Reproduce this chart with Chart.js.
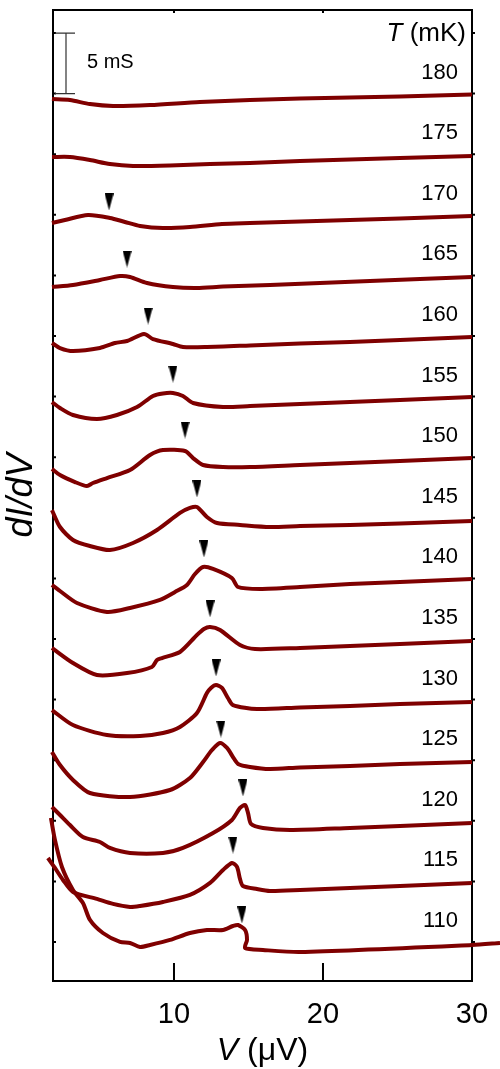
<!DOCTYPE html>
<html>
<head>
<meta charset="utf-8">
<script src="https://cdn.jsdelivr.net/npm/chart.js@4.4.0/dist/chart.umd.min.js"></script>
<style>
  html, body { margin: 0; padding: 0; background: #fff; }
  #wrap { width: 500px; height: 1069px; position: relative; }
</style>
</head>
<body>
<div id="wrap"><canvas id="c" width="500" height="1069"></canvas></div>
<script>
// Temperatures (mK), top trace first
const temperatures = [180, 175, 170, 165, 160, 155, 150, 145, 140, 135, 130, 125, 120, 115, 110];

// dI/dV traces, [V (µV), dI/dV (mS, vertically offset)]
const g180 = [[1.81,69.55],[3.02,69.47],[4.36,69.14],[5.91,68.98],[8.39,69.06],[11.74,69.31],[15.10,69.47],[18.46,69.60],[21.81,69.68],[25.17,69.76],[30.0,69.93]];
const g175 = [[1.81,64.77],[3.02,64.77],[4.36,64.52],[5.70,64.19],[7.25,64.03],[9.73,64.07],[12.42,64.19],[15.10,64.27],[18.46,64.44],[21.81,64.56],[25.17,64.69],[30.0,64.85]];
const g170 = [[1.81,59.32],[2.68,59.57],[4.23,59.98],[5.70,59.74],[6.71,59.41],[7.72,59.08],[9.26,58.91],[11.07,58.99],[13.22,59.24],[15.10,59.32],[18.46,59.45],[21.81,59.57],[25.17,59.69],[30.0,59.90]];
const g165 = [[1.81,54.04],[3.22,54.21],[5.03,54.62],[6.38,54.95],[7.05,54.87],[8.19,54.37],[9.93,54.04],[11.54,53.96],[13.29,54.08],[16.44,54.21],[19.80,54.37],[23.15,54.54],[26.51,54.70],[30.0,54.87]];
const g160 = [[1.81,49.42],[2.35,49.01],[3.22,48.76],[5.03,49.01],[6.04,49.42],[6.85,49.59],[7.99,50.17],[8.59,49.75],[9.93,49.34],[10.60,49.09],[12.21,49.09],[15.10,49.22],[18.46,49.38],[21.81,49.50],[25.17,49.67],[30.0,49.92]];
const g155 = [[1.81,44.55],[2.35,44.06],[3.22,43.48],[4.83,43.15],[6.17,43.48],[7.52,44.14],[8.59,45.05],[9.26,45.26],[9.93,45.30],[10.60,45.05],[11.28,44.47],[13.29,44.14],[15.10,44.22],[18.46,44.39],[21.81,44.55],[25.17,44.72],[30.0,44.97]];
const g150 = [[1.81,39.03],[2.35,38.53],[3.36,37.95],[4.16,37.62],[4.56,37.87],[5.50,38.28],[7.05,38.94],[8.39,40.18],[9.26,40.59],[10.74,40.51],[11.28,39.93],[11.95,39.36],[13.29,39.19],[15.10,39.19],[18.46,39.36],[21.81,39.52],[25.17,39.69],[30.0,39.93]];
const g145 = [[1.81,35.64],[2.35,34.24],[3.22,33.17],[4.36,32.67],[5.70,32.34],[7.25,32.92],[8.86,33.99],[10.40,35.40],[11.07,35.81],[11.54,35.89],[12.21,35.07],[12.89,34.57],[14.43,34.41],[16.44,34.24],[18.46,34.32],[21.81,34.41],[25.17,34.53],[30.0,34.74]];
const g140 = [[1.81,29.46],[2.35,28.96],[3.49,27.97],[5.50,27.23],[7.05,27.56],[9.06,28.22],[10.07,28.88],[10.87,29.46],[11.41,30.36],[11.95,30.94],[12.62,30.78],[13.89,30.03],[14.30,29.29],[15.77,29.13],[18.46,29.29],[21.81,29.54],[25.17,29.70],[30.0,29.95]];
const g135 = [[1.81,24.26],[3.22,23.02],[4.83,22.03],[6.85,22.19],[8.52,22.69],[8.86,23.27],[9.19,23.43],[10.40,23.93],[11.54,25.33],[12.01,25.83],[12.42,25.99],[13.09,25.74],[14.43,24.50],[15.44,24.17],[18.46,24.26],[21.81,24.42],[25.17,24.59],[30.0,24.83]];
const g130 = [[1.81,19.14],[3.22,17.90],[5.50,17.08],[7.72,17.00],[9.26,17.24],[10.40,17.74],[11.54,18.89],[12.21,20.54],[12.48,20.96],[12.82,21.20],[13.22,20.96],[13.62,20.13],[13.96,19.55],[15.57,19.22],[18.46,19.35],[21.81,19.47],[25.17,19.64],[30.0,19.80]];
const g125 = [[1.81,15.68],[2.35,14.60],[3.22,13.37],[4.36,12.29],[7.05,11.96],[9.73,12.54],[11.07,13.53],[11.95,14.85],[12.55,15.84],[13.09,16.42],[13.56,16.01],[13.96,15.26],[14.30,14.69],[15.10,14.44],[16.44,14.27],[18.46,14.40],[21.81,14.52],[25.17,14.69],[30.0,14.85]];
const g120 = [[1.81,11.14],[2.35,10.48],[3.02,9.65],[3.89,8.66],[5.03,8.25],[5.70,7.76],[7.05,7.34],[9.26,7.34],[10.60,7.76],[12.62,8.99],[13.89,10.07],[14.43,11.06],[14.77,11.30],[14.97,10.64],[15.17,9.74],[15.97,9.41],[17.79,9.24],[21.81,9.41],[25.17,9.57],[30.0,9.82]];
const g115 = [[1.54,6.93],[2.01,6.11],[2.55,5.12],[3.22,4.13],[4.83,3.55],[5.91,3.14],[7.05,2.89],[7.72,2.97],[9.26,3.30],[11.07,3.88],[12.42,4.87],[13.29,5.94],[13.89,6.52],[14.23,6.19],[14.43,5.20],[14.63,4.62],[15.57,4.37],[16.44,4.21],[18.46,4.29],[21.81,4.46],[25.17,4.62],[30.0,4.87]];
const g110 = [[1.74,10.23],[2.01,8.42],[2.48,6.19],[3.22,4.29],[3.89,3.22],[4.36,1.82],[5.23,0.74],[6.38,0.0],[7.05,-0.08],[7.72,-0.41],[8.39,-0.25],[9.73,0.17],[11.07,0.74],[12.21,0.99],[13.29,0.99],[13.96,1.32],[14.30,1.40],[14.77,0.99],[14.90,0.17],[14.77,-0.50],[15.97,-0.66],[18.46,-0.83],[30.0,-0.25],[31.88,-0.08]];

// Peak markers for 170 ... 110 mK
const peakV = [5.64, 6.85, 8.26, 9.93, 10.74, 11.54, 12.01, 12.42, 12.82, 13.15, 14.63, 13.96, 14.56];
const peakG = [61.06, 56.35, 51.65, 46.86, 42.24, 37.38, 32.43, 27.48, 22.61, 17.57, 12.71, 8.00, 2.23];

// Axis ticks
const xTicks = [10, 20, 30];
const yTicks = [0, 5, 10, 15, 20, 25, 30, 35, 40, 45, 50, 55, 60, 65, 70, 75];

const traces = [g180, g175, g170, g165, g160, g155, g150, g145, g140, g135, g130, g125, g120, g115, g110];

const FONT = '"Liberation Sans", Arial, Helvetica, sans-serif';
const TRACE_COLOR = '#7f0000';

// Narrow downward arrowhead used as the peak marker
const arrowHead = document.createElement('canvas');
arrowHead.width = 9; arrowHead.height = 17;
(function () {
  const c = arrowHead.getContext('2d');
  c.fillStyle = '#000';
  c.beginPath();
  c.moveTo(0, 0); c.lineTo(9, 0); c.lineTo(4.5, 17); c.closePath();
  c.fill();
})();

// Draws a run of text pieces, each upright or italic, as one line
function drawMixed(ctx, parts, size, x, y, align) {
  let total = 0;
  const widths = parts.map(([t, it]) => {
    ctx.font = (it ? 'italic ' : '') + size + 'px ' + FONT;
    const w = ctx.measureText(t).width; total += w; return w;
  });
  let cx = align === 'center' ? x - total / 2 : (align === 'right' ? x - total : x);
  ctx.textAlign = 'left';
  parts.forEach(([t, it], i) => {
    ctx.font = (it ? 'italic ' : '') + size + 'px ' + FONT;
    ctx.fillText(t, cx, y);
    cx += widths[i];
  });
}

const frameAndLabels = {
  id: 'frameAndLabels',
  beforeDatasetsDraw(chart) {
    const { ctx, chartArea: a, scales: { x, y } } = chart;
    ctx.save();
    ctx.strokeStyle = '#000';
    ctx.lineWidth = 2;
    ctx.strokeRect(a.left, a.top, a.right - a.left, a.bottom - a.top);
    ctx.beginPath();
    xTicks.forEach(v => {
      const px = x.getPixelForValue(v);
      ctx.moveTo(px, a.bottom); ctx.lineTo(px, a.bottom - 18);
      ctx.moveTo(px, a.top); ctx.lineTo(px, a.top + 3);
    });
    yTicks.forEach(v => {
      const py = y.getPixelForValue(v);
      ctx.moveTo(a.left, py); ctx.lineTo(a.left + 3, py);
      ctx.moveTo(a.right, py); ctx.lineTo(a.right + 3, py);
    });
    ctx.stroke();
    ctx.restore();
  },
  afterDraw(chart) {
    const { ctx, chartArea: a, scales: { y } } = chart;
    ctx.save();
    ctx.fillStyle = '#000';
    ctx.textBaseline = 'alphabetic';

    // 5 mS scale bar
    const yb0 = y.getPixelForValue(75), yb1 = y.getPixelForValue(70);
    ctx.strokeStyle = '#333';
    ctx.lineWidth = 1.2;
    ctx.beginPath();
    ctx.moveTo(66, yb0); ctx.lineTo(66, yb1);
    ctx.moveTo(55, yb0); ctx.lineTo(75, yb0);
    ctx.moveTo(55, yb1); ctx.lineTo(75, yb1);
    ctx.stroke();
    ctx.font = '20px ' + FONT;
    ctx.textAlign = 'left';
    ctx.fillText('5 mS', 87, 68);

    // temperature header and labels
    drawMixed(ctx, [['T', true], [' (mK)', false]], 26, 466, 41, 'right');
    ctx.font = '22px ' + FONT;
    ctx.textAlign = 'right';
    temperatures.forEach((t, i) => {
      const py = y.getPixelForValue(1.9 + 5 * (temperatures.length - 1 - i));
      ctx.fillText(String(t), 458, py + 8);
    });

    // axis titles
    drawMixed(ctx, [['V', true], [' (\u03bcV)', false]], 32, (a.left + a.right) / 2, 1060, 'center');

    ctx.save();
    ctx.translate(32, (a.top + a.bottom) / 2);
    ctx.rotate(-Math.PI / 2);
    ctx.font = 'italic 36px ' + FONT;
    ctx.textAlign = 'center';
    ctx.fillText('dI/dV', 0, 0);
    ctx.restore();

    ctx.restore();
  }
};

const datasets = traces.map((tr, i) => ({
  label: temperatures[i] + ' mK',
  data: tr.map(([v, g]) => ({ x: v, y: g })),
  borderColor: TRACE_COLOR,
  borderWidth: 4,
  pointRadius: 0,
  pointHoverRadius: 0,
  tension: 0.25,
  fill: false,
  clip: false
}));

datasets.push({
  type: 'scatter',
  label: 'peaks',
  data: peakV.map((v, i) => ({ x: v, y: peakG[i] })),
  pointStyle: arrowHead,
  pointRadius: 8,
  pointHoverRadius: 8,
  showLine: false,
  clip: false
});

new Chart(document.getElementById('c'), {
  type: 'line',
  data: { datasets },
  options: {
    responsive: false,
    animation: false,
    devicePixelRatio: 1,
    events: [],
    layout: { padding: { top: 10, right: 28, left: 0, bottom: 0 } },
    elements: { line: { capBezierPoints: false } },
    plugins: { legend: { display: false }, tooltip: { enabled: false } },
    scales: {
      x: {
        type: 'linear',
        min: 1.88,
        max: 30,
        grid: { display: false },
        border: { display: false },
        afterBuildTicks: s => { s.ticks = xTicks.map(v => ({ value: v })); },
        afterFit: s => { s.height = 88; },
        ticks: {
          color: '#000',
          padding: 9,
          maxRotation: 0,
          font: { family: FONT, size: 29 }
        }
      },
      y: {
        type: 'linear',
        min: -3.22,
        max: 76.9,
        grid: { display: false },
        border: { display: false },
        ticks: { display: false },
        afterFit: s => { s.width = 53; }
      }
    }
  },
  plugins: [frameAndLabels]
});
</script>
</body>
</html>
